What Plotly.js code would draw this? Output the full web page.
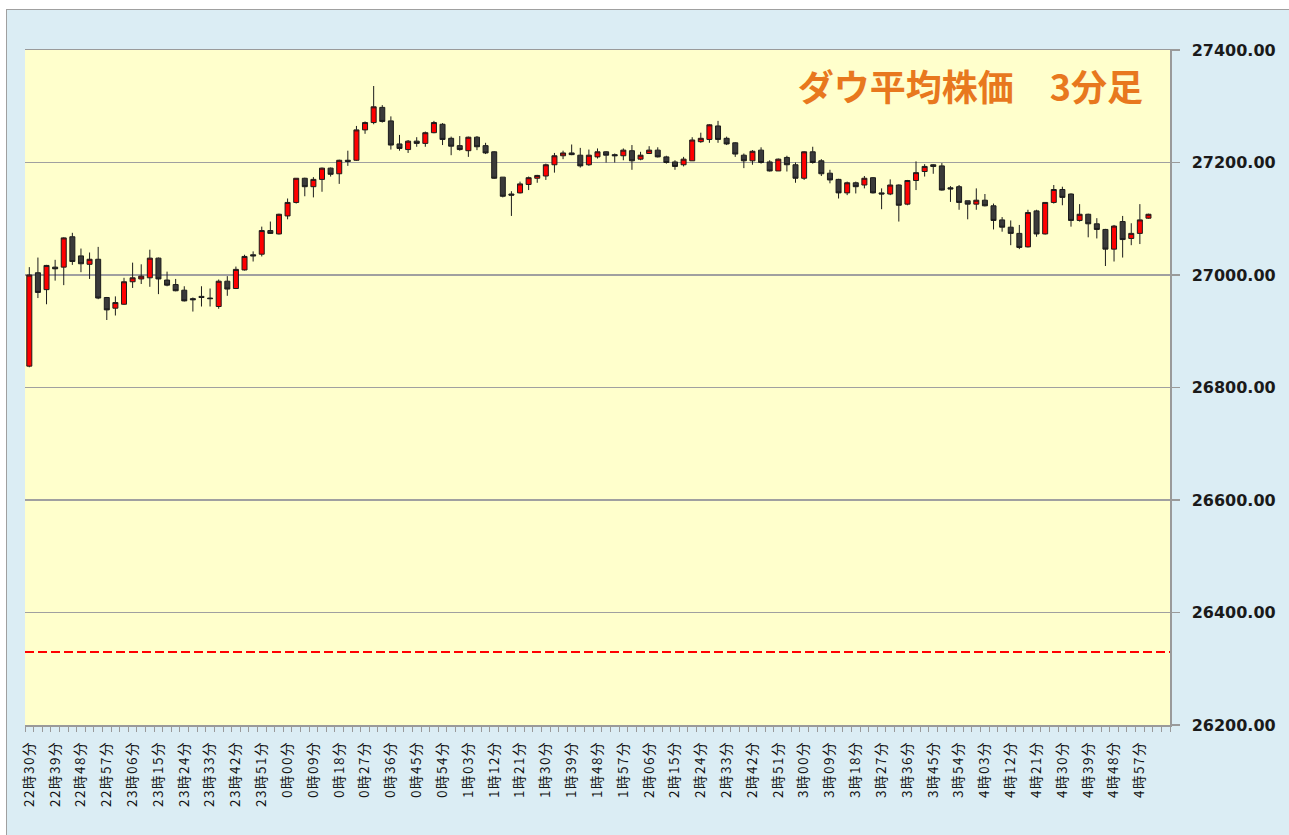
<!DOCTYPE html>
<html><head><meta charset="utf-8">
<script src="https://cdn.plot.ly/plotly-3.0.1.min.js"></script>
<style>
html,body{margin:0;padding:0;background:#ffffff;}
#chart{position:absolute;left:6px;top:9px;width:1282px;height:825px;border-left:1px solid #a0a0a0;border-top:1px solid #a0a0a0;}
.xtick text{letter-spacing:1.5px;}
</style></head><body><div id="chart"></div><script>
// 3-minute candles, 22:30 -> 5:00
const openP  = [26838,27004,26974,27014,27014,27068,27034,27019,27028,26960,26941,26948,26988,26993,26995,27030,26991,26983,26973,26958,26962,26959,26944,26989,26976,27009,27036,27037,27079,27073,27105,27129,27172,27157,27170,27190,27180,27204,27204,27258,27271,27298,27274,27233,27223,27238,27234,27253,27268,27243,27230,27221,27245,27230,27219,27174,27144,27146,27161,27172,27176,27196,27212,27217,27213,27196,27210,27219,27214,27212,27221,27206,27216,27222,27210,27201,27196,27203,27237,27241,27265,27243,27235,27213,27203,27222,27201,27185,27209,27196,27172,27219,27203,27181,27170,27146,27164,27160,27173,27146,27144,27160,27126,27168,27184,27196,27194,27155,27157,27132,27126,27133,27123,27098,27085,27074,27050,27114,27073,27129,27152,27144,27097,27108,27091,27081,27046,27095,27065,27074,27101];
const highP  = [27014,27031,27018,27027,27067,27075,27047,27040,27050,26961,26962,26995,27022,27019,27045,27031,27006,26993,26980,26960,26980,26976,26992,26998,27015,27036,27042,27086,27095,27109,27136,27172,27173,27174,27191,27191,27205,27221,27265,27273,27336,27302,27282,27249,27240,27245,27255,27274,27270,27246,27247,27246,27247,27235,27220,27174,27149,27166,27175,27178,27198,27217,27221,27232,27226,27223,27225,27220,27216,27225,27231,27219,27229,27227,27212,27204,27210,27245,27253,27268,27274,27246,27236,27216,27222,27227,27204,27207,27212,27200,27220,27228,27206,27187,27171,27166,27166,27176,27174,27154,27170,27161,27169,27202,27197,27197,27199,27158,27160,27132,27154,27144,27127,27103,27097,27089,27116,27116,27129,27160,27157,27145,27126,27109,27101,27082,27089,27105,27092,27126,27109];
const lowP   = [26836,26959,26948,26990,26982,27018,27005,26993,26957,26920,26928,26947,26977,26984,26979,26966,26980,26971,26953,26935,26944,26944,26940,26963,26975,27008,27024,27033,27073,27072,27099,27127,27140,27138,27148,27175,27162,27194,27203,27251,27268,27271,27223,27221,27217,27228,27228,27252,27231,27213,27221,27210,27222,27215,27171,27138,27105,27145,27151,27164,27169,27182,27206,27213,27191,27194,27207,27200,27200,27204,27187,27204,27215,27209,27198,27187,27193,27203,27235,27235,27235,27231,27210,27190,27196,27198,27184,27185,27184,27164,27169,27198,27176,27163,27136,27142,27145,27154,27145,27117,27142,27095,27124,27151,27175,27180,27150,27130,27116,27099,27116,27122,27081,27077,27053,27046,27049,27068,27072,27127,27124,27086,27095,27067,27065,27016,27024,27031,27053,27055,27100];
const closeP = [27000,26969,27017,27011,27066,27024,27020,27028,26959,26938,26951,26988,26995,26998,27030,26993,26982,26972,26954,26956,26960,26958,26989,26975,27010,27033,27034,27079,27074,27108,27129,27172,27157,27170,27190,27179,27204,27202,27258,27271,27299,27273,27231,27225,27238,27234,27253,27271,27241,27229,27223,27245,27228,27217,27172,27140,27142,27162,27173,27177,27196,27212,27217,27214,27194,27213,27219,27213,27212,27222,27203,27213,27222,27210,27200,27193,27206,27240,27243,27267,27241,27233,27215,27203,27220,27200,27185,27206,27196,27172,27219,27200,27180,27169,27146,27164,27157,27172,27146,27144,27160,27124,27168,27182,27193,27193,27151,27153,27129,27126,27133,27123,27097,27085,27074,27049,27111,27073,27129,27152,27138,27097,27108,27091,27081,27046,27087,27063,27074,27098,27108];
const tickLabels = ['22時30分','22時39分','22時48分','22時57分','23時06分','23時15分','23時24分','23時33分','23時42分','23時51分','0時00分','0時09分','0時18分','0時27分','0時36分','0時45分','0時54分','1時03分','1時12分','1時21分','1時30分','1時39分','1時48分','1時57分','2時06分','2時15分','2時24分','2時33分','2時42分','2時51分','3時00分','3時09分','3時18分','3時27分','3時36分','3時45分','3時54分','4時03分','4時12分','4時21分','4時30分','4時39分','4時48分','4時57分'];
const refLevel = 26330;
const titleText = 'ダウ平均株価　3分足';

const idx = openP.map((_, i) => i);
const tickVals = tickLabels.map((_, i) => i * 3);

const trace = {
  type: 'candlestick', x: idx, open: openP, high: highP, low: lowP, close: closeP,
  increasing: {line: {color: '#1c1c1c', width: 1}, fillcolor: '#ff0000'},
  decreasing: {line: {color: '#1c1c1c', width: 1}, fillcolor: '#3a3a3a'},
  whiskerwidth: 0, hoverinfo: 'skip', showlegend: false
};

const layout = {
  width: 1282, height: 825,
  margin: {l: 18, r: 119, t: 40, b: 110, pad: 0},
  paper_bgcolor: '#dbedf4', plot_bgcolor: '#ffffcc',
  boxgap: 0.42, boxgroupgap: 0,
  showlegend: false,
  title: {text: titleText, xref: 'paper', yref: 'paper', x: 0.9764, xanchor: 'right', y: 0.9437, yanchor: 'middle',
    font: {family: '"Noto Sans CJK JP", sans-serif', size: 36, weight: 'bold', color: '#e8781e'}},
  xaxis: {
    type: 'linear', range: [-0.5, 132.5], rangeslider: {visible: false},
    tickmode: 'array', tickvals: tickVals, ticktext: tickLabels, tickangle: -90,
    ticks: '', showgrid: false, zeroline: false,
    showline: true, linecolor: '#9a9a9a', linewidth: 1.5, mirror: true,
    ticklabelstandoff: 9,
    tickfont: {family: '"Noto Sans CJK JP", sans-serif', size: 13.5, color: '#111111'},
    minor: {ticks: 'outside', tick0: 0.5, dtick: 1, ticklen: 5, tickcolor: '#9a9a9a', tickwidth: 1, showgrid: false},
    fixedrange: true
  },
  yaxis: {
    side: 'right', range: [26200, 27400], tickmode: 'linear', tick0: 26200, dtick: 200,
    tickformat: '.2f', showgrid: true, gridcolor: '#a0a0a0', gridwidth: 1.5, zeroline: false,
    showline: true, linecolor: '#9a9a9a', linewidth: 1.5,
    ticks: 'outside', ticklen: 8, tickcolor: '#9a9a9a', tickwidth: 1.5, ticklabelstandoff: 9,
    tickfont: {family: '"DejaVu Sans", sans-serif', size: 16, weight: 'bold', color: '#1a1a1a'},
    fixedrange: true
  },
  shapes: [{type: 'line', xref: 'paper', x0: 0, x1: 1, yref: 'y', y0: refLevel, y1: refLevel,
    line: {color: '#ff0000', width: 2, dash: '9px,4px'}}]
};

Plotly.newPlot('chart', [trace], layout, {displayModeBar: false, staticPlot: true});
</script></body></html>
